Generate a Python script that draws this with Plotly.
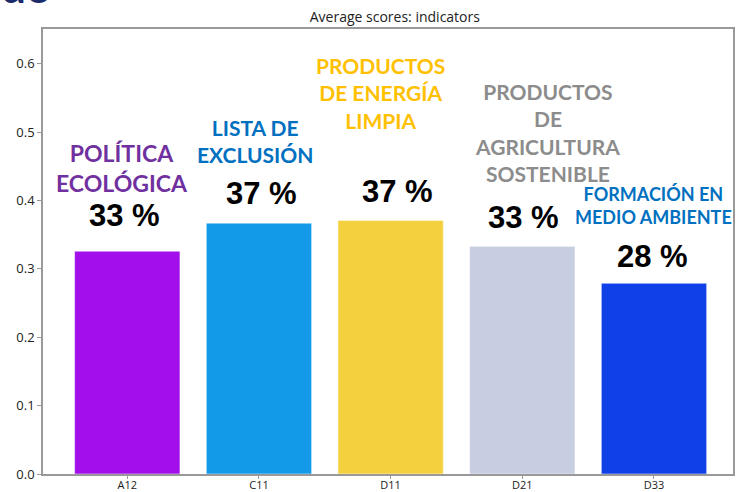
import plotly.graph_objects as go

# data
indicators = ["A12", "C11", "D11", "D21", "D33"]
scores = [0.326, 0.367, 0.371, 0.333, 0.279]
pct_labels = ["33 %", "37 %", "37 %", "33 %", "28 %"]
names = ["POLÍTICA<br>ECOLÓGICA", "LISTA DE<br>EXCLUSIÓN",
         "PRODUCTOS<br>DE ENERGÍA<br>LIMPIA",
         "PRODUCTOS<br>DE<br>AGRICULTURA<br>SOSTENIBLE",
         "FORMACIÓN EN<br>MEDIO AMBIENTE"]

bar_colors = ["#a20fea", "#129ae8", "#f4d03f", "#c8cee1", "#0f40e8"]
name_colors = ["#7030a0", "#0070c0", "#ffc000", "#8c8c8c", "#0070c0"]
name_sizes = [23, 21, 21, 21, 18]
# label placement (index offset, y in data units)
name_pos = [(-0.04, 0.448), (0.97, 0.487), (1.92, 0.558), (3.19, 0.500), (4.0, 0.393)]
pct_pos = [(-0.02, 0.378), (1.02, 0.411), (2.05, 0.414), (3.01, 0.375), (3.99, 0.318)]

fig = go.Figure()

fig.add_trace(go.Bar(
    x=list(range(len(indicators))),
    y=scores,
    width=0.8,
    marker=dict(color=bar_colors, line=dict(color="rgba(255,255,255,0.5)", width=1)),
    showlegend=False,
))

for i in range(len(indicators)):
    fig.add_annotation(
        x=name_pos[i][0], y=name_pos[i][1], text="<b>" + names[i] + "</b>",
        showarrow=False, xanchor="center", yanchor="middle",
        font=dict(family="Lato", size=name_sizes[i], color=name_colors[i]),
    )
    fig.add_annotation(
        x=pct_pos[i][0], y=pct_pos[i][1], text="<b>" + pct_labels[i] + "</b>",
        showarrow=False, xanchor="center", yanchor="middle",
        font=dict(family="Liberation Sans", size=31, color="black"),
    )

# fragment of slide heading cut at the top-left
fig.add_annotation(
    xref="paper", yref="paper", x=-0.064, y=1.034, text="<b>do</b>",
    showarrow=False, xanchor="left", yanchor="bottom",
    font=dict(family="Lato", size=44, color="#1b2a6b"),
)

fig.update_layout(
    width=738,
    height=492,
    margin=dict(l=43, r=5, t=29, b=18, autoexpand=False),
    plot_bgcolor="white",
    paper_bgcolor="white",
    title=dict(text="Average scores: indicators", x=0.535, xanchor="center",
               y=0.975, yanchor="top",
               font=dict(family="Open Sans", size=14, color="#222222")),
    bargap=0.2,
    font=dict(family="Open Sans", size=12, color="#222222"),
)

fig.update_xaxes(
    range=[-0.64, 4.6],
    tickmode="array", tickvals=list(range(len(indicators))), ticktext=indicators,
    showline=True, linecolor="#999999", linewidth=1.5, mirror=True,
    ticks="outside", ticklen=3, tickcolor="#999999",
    showgrid=False, zeroline=False, automargin=False,
    tickfont=dict(size=11), ticklabelstandoff=-3,
)
fig.update_yaxes(
    range=[0, 0.651],
    tickvals=[0, 0.1, 0.2, 0.3, 0.4, 0.5, 0.6], tickformat=".1f",
    showline=True, linecolor="#999999", linewidth=1.5, mirror=True,
    ticks="outside", ticklen=4, tickcolor="#999999",
    showgrid=False, zeroline=False, automargin=False,
    tickfont=dict(size=13),
)

# the page body has a default margin; drop it so the figure fills the window
fig.write_html("out.html", config={"displayModeBar": False},
               post_script="document.body.style.margin = '0';")
